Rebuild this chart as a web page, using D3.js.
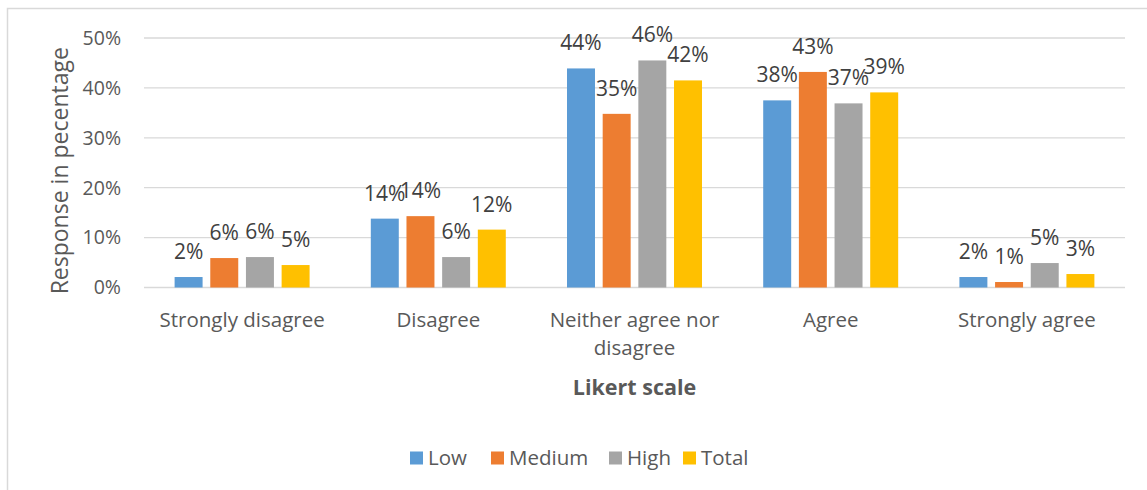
<!DOCTYPE html>
<html>
<head>
<meta charset="utf-8">
<script src="https://cdn.jsdelivr.net/npm/d3@7"></script>
<style>
  body { margin: 0; background: #fff; }
  svg { display: block; font-family: "Open Sans", sans-serif; }
</style>
</head>
<body>
<svg id="chart" width="1147" height="490"></svg>
<script>
var categories = ['Strongly disagree', 'Disagree', 'Neither agree nor disagree', 'Agree', 'Strongly agree'];
var seriesNames = ['Low', 'Medium', 'High', 'Total'];
var lowValues = [0.021, 0.138, 0.439, 0.375, 0.021];
var mediumValues = [0.059, 0.143, 0.348, 0.432, 0.011];
var highValues = [0.061, 0.061, 0.455, 0.369, 0.049];
var totalValues = [0.045, 0.116, 0.415, 0.391, 0.027];
var yTicks = [0, 0.1, 0.2, 0.3, 0.4, 0.5];
var COLS = ['#5B9BD5', '#ED7D31', '#A5A5A5', '#FFC000'];

(function() {
    var values = [lowValues, mediumValues, highValues, totalValues];
    var svg = d3.select('#chart');
    var pct = d3.format('.0%');

    // chart frame
    svg.append('rect').attr('x', 7.5).attr('y', 8.5).attr('width', 1160).attr('height', 500)
        .attr('fill', 'none').attr('stroke', '#d9d9d9').attr('stroke-width', 1.5);

    var plotLeft = 144, plotRight = 1125, plotTop = 38, plotBottom = 287.5;

    var x0 = d3.scaleBand().domain(categories).range([plotLeft, plotRight]).paddingInner(0.312).paddingOuter(0.156);
    var x1 = d3.scaleBand().domain(seriesNames).range([0, x0.bandwidth()]).paddingInner(0.2157);
    var y = d3.scaleLinear().domain([0, 0.5]).range([plotBottom, plotTop]);

    // gridlines
    svg.append('g').selectAll('line').data(yTicks).enter().append('line')
        .attr('x1', plotLeft).attr('x2', plotRight)
        .attr('y1', function(d) { return y(d); }).attr('y2', function(d) { return y(d); })
        .attr('stroke', '#d9d9d9').attr('stroke-width', 1.3);

    // y tick labels
    svg.append('g').selectAll('text').data(yTicks).enter().append('text')
        .attr('x', 121).attr('y', function(d) { return y(d); })
        .attr('dy', '0.35em').attr('text-anchor', 'end')
        .attr('font-size', 19.5).attr('fill', '#595959')
        .text(pct);

    // bars
    var groups = svg.append('g').selectAll('g').data(seriesNames).enter().append('g')
        .attr('fill', function(d, i) { return COLS[i]; });

    function rows(s, i) {
        return categories.map(function(c, j) { return {cat: c, s: s, v: values[i][j]}; });
    }

    groups.selectAll('rect').data(rows).enter().append('rect')
        .attr('x', function(d) { return x0(d.cat) + x1(d.s); })
        .attr('width', x1.bandwidth())
        .attr('y', function(d) { return y(d.v); })
        .attr('height', function(d) { return y(0) - y(d.v); });

    // data labels
    groups.selectAll('text').data(rows).enter().append('text')
        .attr('x', function(d) { return x0(d.cat) + x1(d.s) + x1.bandwidth() / 2; })
        .attr('y', function(d) { return y(d.v) - 18; })
        .attr('text-anchor', 'middle').attr('font-size', 21).attr('fill', '#404040')
        .text(function(d) { return pct(d.v); });

    // category labels
    var catLines = {'Neither agree nor disagree': ['Neither agree nor', 'disagree']};
    svg.append('g').selectAll('text').data(categories).enter().append('text')
        .attr('y', 327)
        .attr('text-anchor', 'middle').attr('font-size', 20.5).attr('fill', '#595959')
        .each(function(d) {
            var lines = catLines[d] || [d];
            var t = d3.select(this);
            lines.forEach(function(l, k) {
                t.append('tspan').attr('x', x0(d) + x0.bandwidth() / 2).attr('dy', k ? 28 : 0).text(l);
            });
        });

    // axis titles
    svg.append('text').attr('x', (plotLeft + plotRight) / 2).attr('y', 395)
        .attr('text-anchor', 'middle').attr('font-size', 21.5).attr('font-weight', 'bold')
        .attr('fill', '#595959').text('Likert scale');

    svg.append('text').attr('transform', 'translate(68,' + ((plotTop + plotBottom) / 2 + 8) + ') rotate(-90)')
        .attr('text-anchor', 'middle').attr('font-size', 23).attr('fill', '#595959')
        .text('Response in pecentage');

    // legend
    var legendX = [410, 491, 609, 683];
    var legend = svg.append('g').selectAll('g').data(seriesNames).enter().append('g')
        .attr('transform', function(d, i) { return 'translate(' + legendX[i] + ',458)'; });
    legend.append('rect').attr('x', 0).attr('y', -6.5).attr('width', 13).attr('height', 13)
        .attr('fill', function(d, i) { return COLS[i]; });
    legend.append('text').attr('x', 18).attr('dy', '0.35em')
        .attr('font-size', 20.5).attr('fill', '#595959')
        .text(function(d) { return d; });
}());
</script>
</body>
</html>
